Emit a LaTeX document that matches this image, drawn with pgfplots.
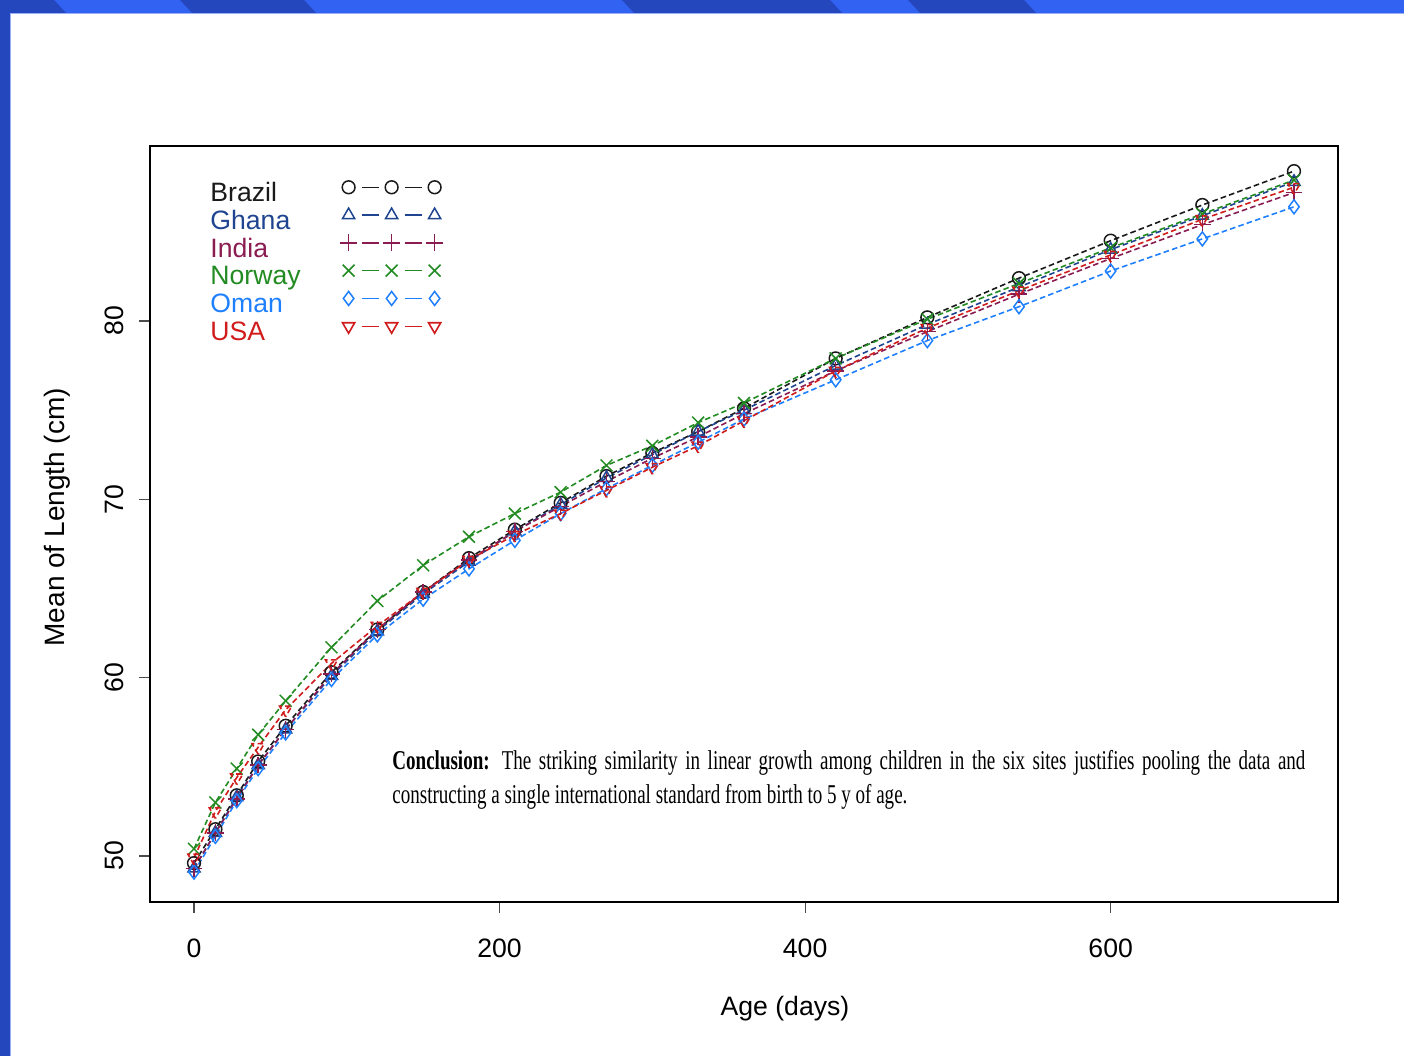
\documentclass[border=0pt]{standalone}
\usepackage{pgfplots}
\pgfplotsset{compat=1.18}
\usepackage{pgfplotstable}
\usepackage{fontspec}
\setmainfont{Liberation Sans}
\newfontfamily\condserif[FakeStretch=0.70]{Liberation Serif}

\definecolor{brazilc}{HTML}{1A1A1A}
\definecolor{ghanac}{HTML}{1F4590}
\definecolor{indiac}{HTML}{8B1C52}
\definecolor{norwayc}{HTML}{228B22}
\definecolor{omanc}{HTML}{1E80FF}
\definecolor{usac}{HTML}{D01C1C}
\definecolor{frameA}{HTML}{3262F2}
\definecolor{frameB}{HTML}{2447BD}
\definecolor{frameEdge}{HTML}{9AB0F5}

% Mean length (cm) by age (days) at the six sites
\pgfplotstableread{
age brazil ghana india norway oman usa
0   49.6 49.3 49.3 50.4 49.1 49.9
14  51.5 51.3 51.3 53.0 51.1 52.5
28  53.4 53.3 53.2 54.9 53.1 54.4
42  55.3 55.1 55.1 56.8 54.9 56.1
60  57.3 57.1 57.1 58.7 56.9 58.2
90  60.3 60.1 60.2 61.7 59.9 60.8
120 62.7 62.6 62.7 64.3 62.4 62.9
150 64.8 64.7 64.8 66.3 64.4 64.8
180 66.7 66.5 66.6 67.9 66.1 66.6
210 68.3 68.2 68.2 69.2 67.7 68.0
240 69.8 69.7 69.6 70.4 69.2 69.2
270 71.3 71.2 71.0 71.9 70.6 70.5
300 72.6 72.5 72.3 73.0 71.9 71.8
330 73.8 73.8 73.5 74.3 73.2 73.0
360 75.1 75.0 74.8 75.4 74.5 74.4
420 77.9 77.5 77.2 77.9 76.7 77.2
480 80.2 79.8 79.4 80.1 78.9 79.6
540 82.4 81.9 81.5 82.1 80.8 81.7
600 84.5 84.0 83.5 84.1 82.8 83.7
660 86.5 85.9 85.4 86.0 84.6 85.7
720 88.4 87.8 87.2 87.9 86.4 87.5
}\growth

\newcommand{\lbl}{\fontsize{13.3}{15}\selectfont}

\begin{document}
\begin{tikzpicture}[x=1pt,y=1pt]
% slide background and frame
\path[use as bounding box] (0,0) rectangle (702,528);
\fill[white] (0,0) rectangle (702,528);
\fill[frameA] (0,521.5) rectangle (702,528);
\foreach \a/\b in {-6/27, 90/152, 311/415, 454/512}
  \fill[frameB] (\a,528) -- (\b,528) -- (\b+6,521.5) -- (\a+6,521.5) -- cycle;
\fill[frameEdge] (5,520.9) rectangle (702,521.5);
\fill[frameB] (0,0) rectangle (5,528);
\fill[frameEdge] (5,0) rectangle (5.6,520.9);

\begin{axis}[
  at={(75pt,77pt)}, anchor=south west,
  scale only axis, width=594pt, height=378pt,
  xmin=-28.8, xmax=748.8, ymin=47.42, ymax=89.81,
  xtick={0,200,400,600}, ytick={50,60,70,80},
  axis line style={line width=0.9pt},
  tick align=outside, major tick length=5.5pt,
  tick style={line width=0.6pt, color=black!70},
  xtick pos=bottom, ytick pos=left,
  /pgf/number format/assume math mode=true,
  ticklabel style={font=\lbl},
  xticklabel style={anchor=center, yshift=-17.5pt},
  yticklabel style={xshift=-12.5pt, rotate=90, anchor=center},
  xlabel={Age (days)}, ylabel={Mean of Length (cm)},
  label style={font=\lbl},
  xlabel style={at={(axis description cs:0.5345,-0.1415)}, anchor=center},
  ylabel style={at={(axis description cs:-0.0783,0.509)}, anchor=center, font=\fontsize{14}{16}\selectfont},
  every axis plot/.append style={line width=0.8pt, dash pattern=on 2.8pt off 1.6pt,
     mark size=3.3pt, mark options={solid, line width=0.75pt}},
  legend plot pos=right,
  legend style={draw=none, fill=none, at={(axis description cs:0.0455,0.9577)}, anchor=north west,
     font=\lbl, row sep=0pt, column sep=20pt,
     nodes={inner sep=0pt, text height=9.6pt, text depth=4.3pt, anchor=west}},
  legend cell align=left,
  legend image code/.code={
    % fixed cell size so larger marks do not widen the rows
    \pgfpathrectangle{\pgfpoint{-4pt}{-6.5pt}}{\pgfpoint{51pt}{13pt}}%
    \pgfusepath{use as bounding box}%
    \draw[#1, solid, line width=0.7pt] (6.5pt,4.5pt) -- (15pt,4.5pt);
    \draw[#1, solid, line width=0.7pt] (28pt,4.5pt) -- (36.5pt,4.5pt);
    \draw[#1, solid, only marks] plot coordinates {(0pt,4.5pt) (21.5pt,4.5pt) (43pt,4.5pt)};
  },
]
\addplot[brazilc, mark=o, mark size=3.2pt] table[x=age, y=brazil] {\growth};
\addlegendentry{\textcolor{brazilc}{Brazil}}
\addplot[ghanac, mark=triangle, mark size=3.5pt] table[x=age, y=ghana] {\growth};
\addlegendentry{\textcolor{ghanac}{Ghana}}
\addplot[indiac, mark=+, mark size=4.2pt] table[x=age, y=india] {\growth};
\addlegendentry{\textcolor{indiac}{India}}
\addplot[norwayc, mark=x, mark size=4.2pt] table[x=age, y=norway] {\growth};
\addlegendentry{\textcolor{norwayc}{Norway}}
\addplot[omanc, mark=diamond, mark size=3.5pt] table[x=age, y=oman] {\growth};
\addlegendentry{\textcolor{omanc}{Oman}}
\addplot[usac, mark=triangle, mark size=3.5pt, mark options={rotate=180}] table[x=age, y=usa] {\growth};
\addlegendentry{\textcolor{usac}{USA}}
\end{axis}

% conclusion note
\node[anchor=base west, inner sep=0pt] at (196,143)
  {\condserif\fontsize{13.6}{17}\selectfont\makebox[456.5pt][s]{\textbf{Conclusion:} The striking similarity in linear growth among children in the six sites justifies pooling the data and}};
\node[anchor=base west, inner sep=0pt] at (196,126)
  {\condserif\fontsize{13.6}{17}\selectfont constructing a single international standard from birth to 5 y of age.};
\end{tikzpicture}
\end{document}
